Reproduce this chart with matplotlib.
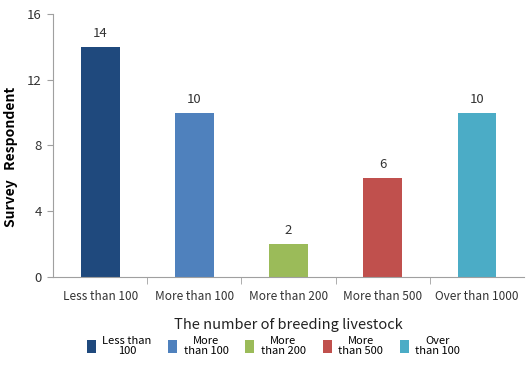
import matplotlib
matplotlib.use("Agg")
import matplotlib.pyplot as plt
import numpy as np

plt.rcParams['font.family'] = ['Noto Sans CJK KR', 'DejaVu Sans']

categories = ['Less than 100', 'More than 100', 'More than 200', 'More than 500', 'Over than 1000']
legend_labels = ['Less than\n100', 'More\nthan 100', 'More\nthan 200', 'More\nthan 500', 'Over\nthan 100']
respondents = [14, 10, 2, 6, 10]
colors = ['#1F497D', '#4F81BD', '#9BBB59', '#C0504D', '#4BACC6']

fig = plt.figure(figsize=(5.26, 3.74), dpi=100)
ax = fig.add_axes([0.101, 0.259, 0.895, 0.704])

x = np.arange(len(categories))
bars = ax.bar(x, respondents, width=0.41, color=colors, label=legend_labels)

for xi, v in zip(x, respondents):
    ax.annotate(str(v), (xi, v), xytext=(0, 5), textcoords='offset points',
                ha='center', va='bottom', fontsize=9.5, color='#333333')

ax.set_xlim(-0.5, 4.5)
ax.set_ylim(0, 16)
ax.set_yticks([0, 4, 8, 12, 16])
ax.set_xticks(x)
ax.set_xticklabels(categories)
ax.set_xticks(np.arange(0.5, 4.5, 1), minor=True)
ax.tick_params(axis='x', which='major', length=0, pad=9, labelsize=8.5, labelcolor='#333333')
ax.tick_params(axis='x', which='minor', length=5, color='#a0a0a0', direction='out')
ax.tick_params(axis='y', length=4, color='#a0a0a0', labelsize=9.5, labelcolor='#333333', pad=4)

for side in ['top', 'right']:
    ax.spines[side].set_visible(False)
for side in ['left', 'bottom']:
    ax.spines[side].set_color('#a0a0a0')

ax.set_xlabel('The number of breeding livestock', fontsize=10.5, labelpad=11, color='#222222')
ax.set_ylabel('Survey   Respondent', fontsize=10, fontweight='bold')
ax.yaxis.set_label_coords(-0.075, 0.455)

leg = fig.legend(bars, legend_labels, loc='center', bbox_to_anchor=(0.52, 0.075), ncol=5,
                 frameon=False, fontsize=8, handlelength=0.8, handleheight=1.4,
                 handletextpad=0.6, columnspacing=1.5, labelspacing=0.2)
for t in leg.get_texts():
    t.set_multialignment('center')
    t.set_linespacing(1.0)

fig.savefig('out.png', dpi=100)
